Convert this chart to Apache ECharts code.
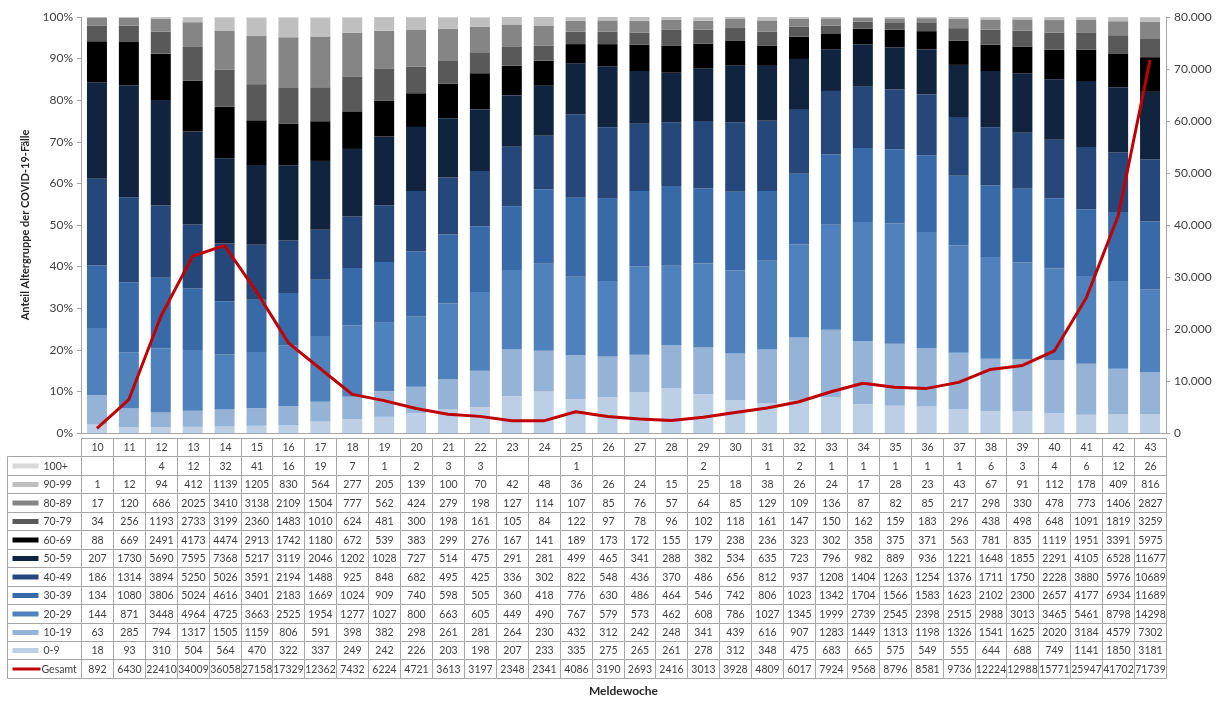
<!DOCTYPE html>
<html>
<head>
<meta charset="utf-8">
<script src="https://cdn.jsdelivr.net/npm/echarts@6/dist/echarts.min.js"></script>
<style>
  html, body { margin: 0; padding: 0; background: #fff; }
  #chart { width: 1228px; height: 702px; }
</style>
</head>
<body>
<div id="chart"></div>
<script>
// Meldewochen
const weeks = ['10','11','12','13','14','15','16','17','18','19','20','21','22','23','24','25','26','27','28','29','30','31','32','33','34','35','36','37','38','39','40','41','42','43']

// Fälle je Altersgruppe und Meldewoche
const age0to9   = [18,93,310,504,564,470,322,337,249,242,226,203,198,207,233,335,275,265,261,278,312,348,475,683,665,575,549,555,644,688,749,1141,1850,3181]
const age10to19 = [63,285,794,1317,1505,1159,806,591,398,382,298,261,281,264,230,432,312,242,248,341,439,616,907,1283,1449,1313,1198,1326,1541,1625,2020,3184,4579,7302]
const age20to29 = [144,871,3448,4964,4725,3663,2525,1954,1277,1027,800,663,605,449,490,767,579,573,462,608,786,1027,1345,1999,2739,2545,2398,2515,2988,3013,3465,5461,8798,14298]
const age30to39 = [134,1080,3806,5024,4616,3401,2183,1669,1024,909,740,598,505,360,418,776,630,486,464,546,742,806,1023,1342,1704,1566,1583,1623,2102,2300,2657,4177,6934,11689]
const age40to49 = [186,1314,3894,5250,5026,3591,2194,1488,925,848,682,495,425,336,302,822,548,436,370,486,656,812,937,1208,1404,1263,1254,1376,1711,1750,2228,3880,5976,10689]
const age50to59 = [207,1730,5690,7595,7368,5217,3119,2046,1202,1028,727,514,475,291,281,499,465,341,288,382,534,635,723,796,982,889,936,1221,1648,1855,2291,4105,6528,11677]
const age60to69 = [88,669,2491,4173,4474,2913,1742,1180,672,539,383,299,276,167,141,189,173,172,155,179,238,236,323,302,358,375,371,563,781,835,1119,1951,3391,5975]
const age70to79 = [34,256,1193,2733,3199,2360,1483,1010,624,481,300,198,161,105,84,122,97,78,96,102,118,161,147,150,162,159,183,296,438,498,648,1091,1819,3259]
const age80to89 = [17,120,686,2025,3410,3138,2109,1504,777,562,424,279,198,127,114,107,85,76,57,64,85,129,109,136,87,82,85,217,298,330,478,773,1406,2827]
const age90to99 = [1,12,94,412,1139,1205,830,564,277,205,139,100,70,42,48,36,26,24,15,25,18,38,26,24,17,28,23,43,67,91,112,178,409,816]
const age100plus = [null,null,4,12,32,41,16,19,7,1,2,3,3,null,null,1,null,null,null,2,null,1,2,1,1,1,1,1,6,3,4,6,12,26]

// Gesamtzahl der Fälle
const gesamt = [892,6430,22410,34009,36058,27158,17329,12362,7432,6224,4721,3613,3197,2348,2341,4086,3190,2693,2416,3013,3928,4809,6017,7924,9568,8796,8581,9736,12224,12988,15771,25947,41702,71739]

// Altersgruppen von unten nach oben
const ageNames = ['0-9','10-19','20-29','30-39','40-49','50-59','60-69','70-79','80-89','90-99','100+']
const ageData = [age0to9, age10to19, age20to29, age30to39, age40to49, age50to59, age60to69, age70to79, age80to89, age90to99, age100plus]
const ageColors = ['#bccfe7','#95b3d7','#4f81bd','#386aa8','#25477a','#10243f','#000000','#595959','#858585','#bfbfbf','#d9d9d9']
const lineColor = '#c00000'

const font = 'Lato, "Open Sans", sans-serif'
const textColor = '#404040'

// Anteile je Woche (100% gestapelt)
const weekSums = weeks.map((w, i) => ageData.reduce((s, arr) => s + (arr[i] || 0), 0))
const ageShares = ageData.map((arr) => arr.map((v, i) => (v ? (v / weekSums[i]) * 100 : 0)))

// Tabellen-Zellen: Kopfzeile, Altersgruppen (oben 100+), Gesamt
const plotLeft = 81
const plotRight = 62
const plotWidth = 1228 - plotLeft - plotRight
const colW = plotWidth / weeks.length
const legendW = 74
const legendCols = legendW / colW

const tableRows = []
for (let k = ageNames.length - 1; k >= 0; k--) {
  tableRows.push({ name: ageNames[k], color: ageColors[k], values: ageData[k], kind: 'bar' })
}
tableRows.push({ name: 'Gesamt', color: lineColor, values: gesamt, kind: 'line' })

const cells = []
weeks.forEach((w, i) => cells.push({ c0: i, c1: i + 1, r: 0, text: w, type: 'value' }))
tableRows.forEach((row, r) => {
  cells.push({ c0: -legendCols, c1: 0, r: r + 1, text: row.name, type: 'legend', color: row.color, kind: row.kind })
  row.values.forEach((v, i) => {
    cells.push({ c0: i, c1: i + 1, r: r + 1, text: v == null ? '' : String(v), type: 'value' })
  })
})

function renderCell(params, api) {
  const cell = cells[params.dataIndex]
  const p0 = api.coord([cell.c0, cell.r])
  const p1 = api.coord([cell.c1, cell.r + 1])
  const x = Math.round(p0[0]) + 0.5
  const y = Math.round(p0[1]) + 0.5
  const w = Math.round(p1[0]) - Math.round(p0[0])
  const h = Math.round(p1[1]) - Math.round(p0[1])
  const children = [
    {
      type: 'rect',
      shape: { x: x, y: y, width: w, height: h },
      style: { fill: '#fff', stroke: '#a6a6a6', lineWidth: 1 },
    },
  ]
  if (cell.type === 'value') {
    children.push({
      type: 'text',
      style: {
        text: cell.text, x: x + w / 2, y: y + h / 2 + 0.5,
        align: 'center', verticalAlign: 'middle',
        fill: textColor, font: '10.5px ' + font,
      },
    })
  } else {
    if (cell.kind === 'line') {
      children.push({
        type: 'line',
        shape: { x1: x + 5, y1: y + h / 2, x2: x + 33, y2: y + h / 2 },
        style: { stroke: cell.color, lineWidth: 3 },
      })
    } else {
      children.push({
        type: 'rect',
        shape: { x: x + 5, y: y + h / 2 - 2.5, width: 26, height: 5 },
        style: { fill: cell.color },
      })
    }
    children.push({
      type: 'text',
      style: {
        text: cell.text, x: cell.kind === 'line' ? x + 34 : x + 36, y: y + h / 2 + 0.5,
        align: 'left', verticalAlign: 'middle',
        fill: textColor, font: '10.5px ' + font,
      },
    })
  }
  return { type: 'group', children: children }
}

const chart = echarts.init(document.getElementById('chart'))

const option = {
  animation: false,
  textStyle: { fontFamily: font },
  grid: [
    { left: plotLeft, right: plotRight, top: 17, bottom: 702 - 438 },
    { left: plotLeft - legendW, right: plotRight, top: 438, height: 13 * 18.45 },
  ],
  xAxis: [
    {
      type: 'category',
      gridIndex: 0,
      data: weeks,
      axisLabel: { show: false },
      axisTick: { show: false },
      axisLine: { lineStyle: { color: '#a6a6a6' } },
      name: 'Meldewoche',
      nameLocation: 'middle',
      nameGap: 252,
      nameTextStyle: { fontWeight: 'bold', fontSize: 12, color: '#262626', fontFamily: font },
    },
    {
      type: 'value',
      gridIndex: 1,
      min: -legendCols,
      max: weeks.length,
      show: false,
    },
  ],
  yAxis: [
    {
      type: 'value',
      gridIndex: 0,
      min: 0,
      max: 100,
      interval: 10,
      axisLabel: { formatter: '{value}%', color: textColor, fontSize: 12, margin: 8 },
      axisLine: { show: true, lineStyle: { color: '#a6a6a6' } },
      axisTick: { show: true, length: 4, lineStyle: { color: '#a6a6a6' } },
      splitLine: { show: false },
      name: 'Anteil Altergruppe der COVID-19-Fälle',
      nameLocation: 'middle',
      nameRotate: 90,
      nameGap: 50,
      nameTextStyle: { fontWeight: 'bold', fontSize: 11, color: '#262626', fontFamily: font },
    },
    {
      type: 'value',
      gridIndex: 0,
      position: 'right',
      min: 0,
      max: 80000,
      interval: 10000,
      axisLabel: {
        color: textColor,
        fontSize: 12,
        margin: 8,
        formatter: (v) => String(v).replace(/\B(?=(\d{3})+(?!\d))/g, '.'),
      },
      axisLine: { show: true, lineStyle: { color: '#a6a6a6' } },
      axisTick: { show: true, length: 4, lineStyle: { color: '#a6a6a6' } },
      splitLine: { show: false },
    },
    {
      type: 'value',
      gridIndex: 1,
      min: 0,
      max: 13,
      inverse: true,
      show: false,
    },
  ],
  series: [
    ...ageNames.map((name, k) => ({
      name: name,
      type: 'bar',
      stack: 'alter',
      xAxisIndex: 0,
      yAxisIndex: 0,
      barWidth: 20,
      itemStyle: { color: ageColors[k] },
      data: ageShares[k],
    })),
    {
      name: 'Gesamt',
      type: 'line',
      xAxisIndex: 0,
      yAxisIndex: 1,
      symbol: 'none',
      lineStyle: { color: lineColor, width: 3 },
      data: gesamt,
      z: 5,
    },
    {
      name: 'Tabelle',
      type: 'custom',
      xAxisIndex: 1,
      yAxisIndex: 2,
      renderItem: renderCell,
      data: cells.map((c) => [c.c0, c.r]),
      clip: false,
    },
  ],
}

chart.setOption(option)
</script>
</body>
</html>
